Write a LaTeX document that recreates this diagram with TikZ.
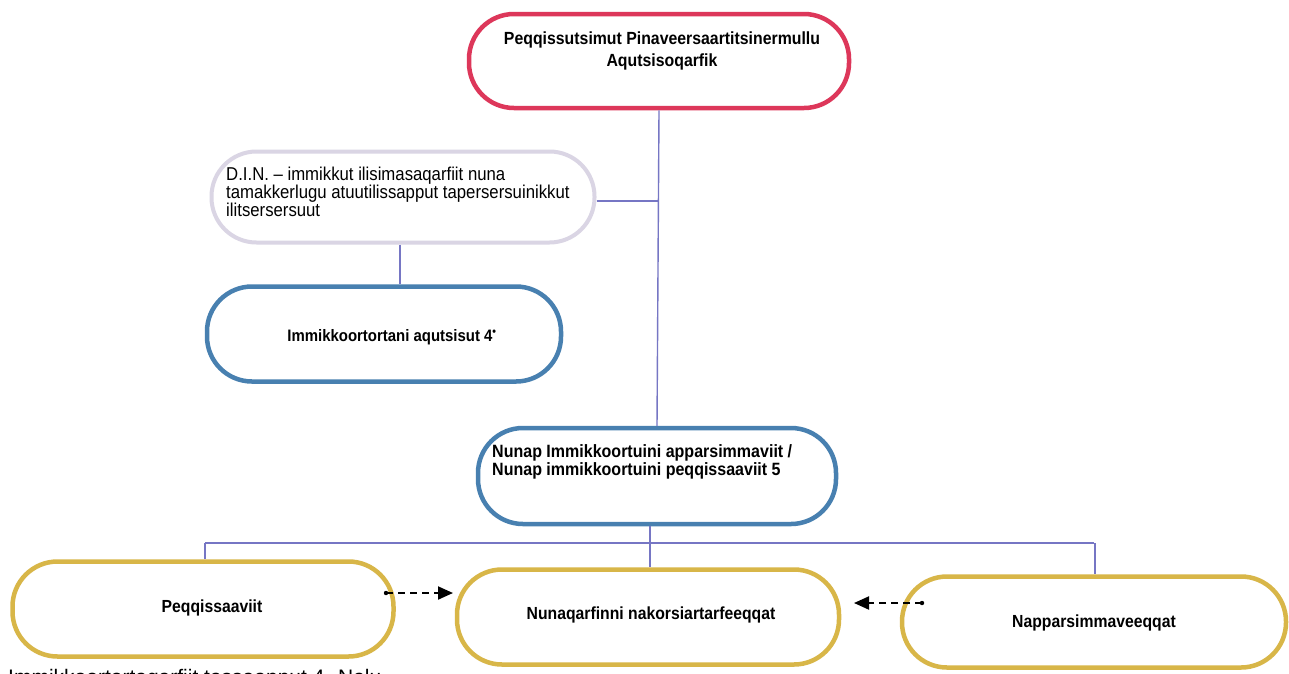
\documentclass[tikz,border=0pt]{standalone}
\usepackage{fontspec}
\setmainfont{Liberation Sans}
\newfontfamily\cond[FakeStretch=0.9,Ligatures=TeX]{Liberation Sans}
\usetikzlibrary{arrows.meta}
\definecolor{cred}{RGB}{221,55,90}
\definecolor{cblue}{RGB}{72,128,176}
\definecolor{cgold}{RGB}{216,182,72}
\definecolor{cgray}{RGB}{218,213,228}
\definecolor{cline}{RGB}{118,118,196}
\begin{document}
\begin{tikzpicture}[x=1pt,y=-1pt,
  box/.style={draw, line width=4.5pt, rounded corners=45pt, fill=white, inner sep=0pt},
  btxt/.style={font=\cond\bfseries\fontsize{17.5}{20}\selectfont, align=center, inner sep=0pt},
  conn/.style={draw=cline, line width=1.4pt},
  darrow/.style={line width=2pt, dash pattern=on 7pt off 5pt, -{Triangle[length=15pt,width=13pt]}}]
\clip (0,0) rectangle (1289,673);
\fill[white] (0,0) rectangle (1289,673);
% boxes
\node[box, draw=cred, minimum width=380pt, minimum height=94pt] (top) at (659,61) {};
\node[box, draw=cgray, line width=4pt, minimum width=383pt, minimum height=91pt] (din) at (403,197) {};
\node[box, draw=cblue, minimum width=354pt, minimum height=95pt] (imm) at (384,334) {};
\node[box, draw=cblue, minimum width=358pt, minimum height=96pt] (nun) at (657,476) {};
\node[box, draw=cgold, minimum width=381pt, minimum height=95pt] (pq) at (203,609) {};
\node[box, draw=cgold, minimum width=382pt, minimum height=95pt] (nq) at (648,617) {};
\node[box, draw=cgold, minimum width=384pt, minimum height=91pt] (nap) at (1094,622) {};
% texts
\node[btxt, font=\cond\bfseries\fontsize{17.6}{21.5}\selectfont] (topT) at (662,51) {Peqqissutsimut Pinaveersaartitsinermullu\\Aqutsisoqarfik};
\node[inner sep=0pt, align=left, anchor=west, font=\cond\fontsize{18.6}{18}\selectfont] (dinT) at (226,192) {D.I.N. – immikkut ilisimasaqarfiit nuna\\tamakkerlugu atuutilissapput tapersersuinikkut\\ilitsersersuut};
\node[btxt, font=\cond\bfseries\fontsize{16.6}{18}\selectfont] (immT) at (392,337) {Immikkoortortani aqutsisut 4\textsuperscript{\textbullet}};
\node[btxt, align=left, anchor=west, font=\cond\bfseries\fontsize{17.8}{17.5}\selectfont] (nunT) at (492,462) {Nunap Immikkoortuini apparsimmaviit /\\Nunap immikkoortuini peqqissaaviit 5};
\node[btxt] (pqT) at (212,608) {Peqqissaaviit};
\node[btxt] (nqT) at (651,615) {Nunaqarfinni nakorsiartarfeeqqat};
\node[btxt] (napT) at (1094,623) {Napparsimmaveeqqat};
\node[inner sep=0pt, anchor=base west, font=\fontsize{21}{24}\selectfont] (foot) at (8,684) {Immikkoortortaqarfiit tassaapput 4. Nalu};
% connectors
\coordinate (bus) at (0,543);
\draw[conn] (top.south) -- (nun.north);
\draw[conn] (din.east) ++(0,4) -- (top.south |- 0,201);
\draw[conn] (din.south) ++(-3,0) -- (imm.north -| 400,0);
\draw[conn] (nun.south) ++(-7,0) -- (650,543);
\draw[conn] (pq.north |- bus) ++(2,0) -- (nap.north |- bus);
\draw[conn] (205,543) -- (pq.north -| 205,0);
\draw[conn] (650,543) -- (nq.north -| 650,0);
\draw[conn] (1095,543) -- (nap.north -| 1095,0);
% dashed arrows
\coordinate (a1s) at (386,593);
\coordinate (a1e) at (453,593);
\coordinate (a2s) at (922,603);
\coordinate (a2e) at (854,603);
\fill (a1s) circle (2.2pt);
\fill (a2s) circle (2.2pt);
\draw[darrow] (a1s) -- (a1e);
\draw[darrow] (a2s) -- (a2e);
\end{tikzpicture}
\end{document}
